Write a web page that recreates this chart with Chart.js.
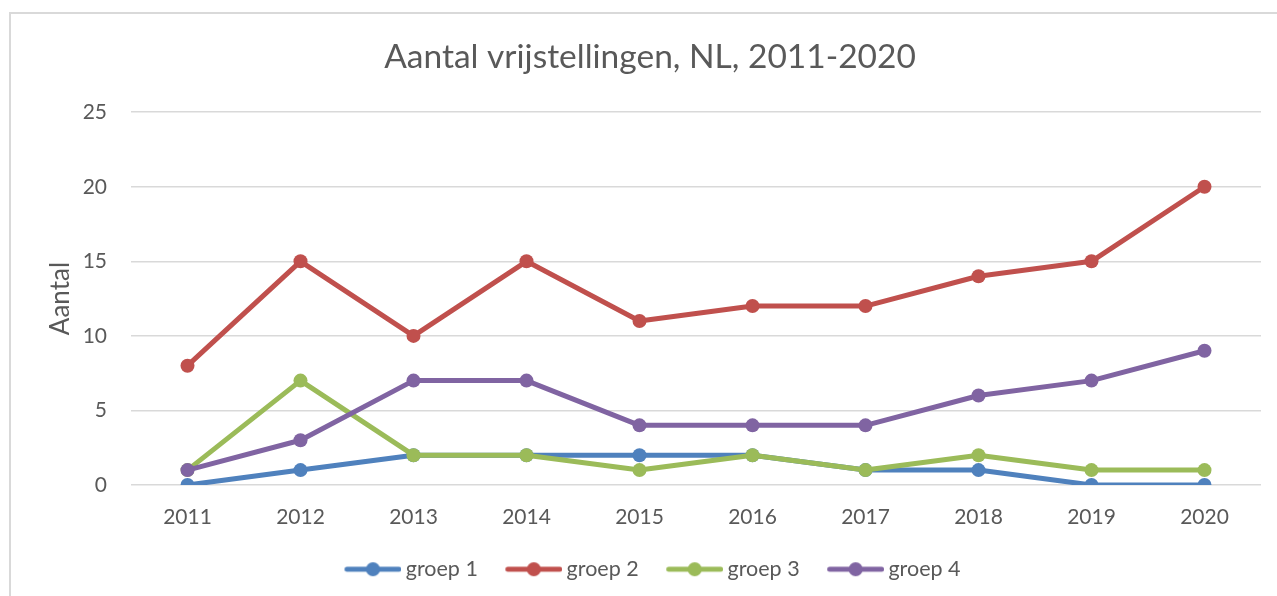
<!DOCTYPE html>
<html>
<head>
<meta charset="utf-8">
<script src="https://cdn.jsdelivr.net/npm/chart.js@4"></script>
<style>
    html, body { margin: 0; padding: 0; background: #fff; }
    #wrap { width: 1277px; height: 596px; }
</style>
</head>
<body>
<div id="wrap"><canvas id="dashboard1"></canvas></div>
<script>
const years = ['2011', '2012', '2013', '2014', '2015', '2016', '2017', '2018', '2019', '2020'];
const groep1 = [0, 1, 2, 2, 2, 2, 1, 1, 0, 0];
const groep2 = [8, 15, 10, 15, 11, 12, 12, 14, 15, 20];
const groep3 = [1, 7, 2, 2, 1, 2, 1, 2, 1, 1];
const groep4 = [1, 3, 7, 7, 4, 4, 4, 6, 7, 9];
const seriesNames = ['groep 1', 'groep 2', 'groep 3', 'groep 4'];
const seriesColors = ['#4F81BD', '#C0504D', '#9BBB59', '#8064A2'];

const textColor = '#595959';
const gridColor = '#d9d9d9';
const fontName = 'Lato';

// legend marker: line with a dot, drawn on a small canvas
const boxW = 72;
function legendMarker(color) {
    const c = document.createElement('canvas');
    c.width = boxW + 13.5;
    c.height = 20;
    const g = c.getContext('2d');
    g.strokeStyle = color;
    g.lineWidth = 5;
    g.lineCap = 'round';
    g.beginPath();
    g.moveTo(c.width - 57 + 2.5, 10);
    g.lineTo(c.width - 2.5, 10);
    g.stroke();
    g.fillStyle = color;
    g.beginPath();
    g.arc(c.width - 28.5, 10, 7, 0, Math.PI * 2);
    g.fill();
    return c;
}
const markers = seriesColors.map(legendMarker);

const frame = {
    id: 'frame',
    beforeDraw(chart) {
        const ctx = chart.ctx;
        ctx.save();
        ctx.strokeStyle = gridColor;
        ctx.lineWidth = 2;
        ctx.beginPath();
        ctx.moveTo(10, chart.height);
        ctx.lineTo(10, 13);
        ctx.lineTo(chart.width, 13);
        ctx.stroke();
        ctx.restore();
    },
    afterLayout(chart) {
        // Excel puts the legend a bit left of centre
        chart.legend.left -= 16.5;
    },
};

const allData = [groep1, groep2, groep3, groep4];

new Chart(document.getElementById('dashboard1'), {
    type: 'line',
    data: {
        labels: years,
        datasets: allData.map((d, i) => ({
            label: seriesNames[i],
            data: d,
            borderColor: seriesColors[i],
            backgroundColor: seriesColors[i],
            borderWidth: 5,
            pointRadius: 7,
            pointHoverRadius: 7,
            pointBorderWidth: 0,
            borderJoinStyle: 'round',
            borderCapStyle: 'round',
            tension: 0,
            order: 4 - i,
        })),
    },
    plugins: [frame],
    options: {
        responsive: true,
        maintainAspectRatio: false,
        animation: false,
        layout: {
            padding: { left: 39, right: 16, top: 0, bottom: 6 },
        },
        plugins: {
            title: {
                display: true,
                text: 'Aantal vrijstellingen, NL, 2011-2020',
                color: textColor,
                font: { family: fontName, size: 33.5, weight: 'normal' },
                padding: { top: 37, bottom: 35 },
            },
            legend: {
                position: 'bottom',
                labels: {
                    color: textColor,
                    font: { family: fontName, size: 21.5 },
                    usePointStyle: true,
                    pointStyleWidth: boxW,
                    padding: 6,
                    sort: (a, b) => a.datasetIndex - b.datasetIndex,
                    generateLabels: (chart) => Chart.defaults.plugins.legend.labels.generateLabels(chart).map(item => {
                        item.pointStyle = markers[item.datasetIndex];
                        return item;
                    }),
                },
            },
            tooltip: { enabled: false },
        },
        scales: {
            x: {
                offset: true,
                grid: { display: false, drawTicks: false },
                border: { display: false },
                ticks: {
                    color: textColor,
                    font: { family: fontName, size: 21 },
                    padding: 20,
                    maxRotation: 0,
                },
                afterFit: (scale) => { scale.height = 67.5; },
            },
            y: {
                min: 0,
                max: 25,
                ticks: {
                    stepSize: 5,
                    color: textColor,
                    font: { family: fontName, size: 21 },
                    padding: 24,
                },
                grid: { color: gridColor, lineWidth: 1.5, drawTicks: false },
                border: { display: false },
                title: {
                    display: true,
                    text: 'Aantal',
                    color: textColor,
                    font: { family: fontName, size: 26 },
                    padding: { top: 6, bottom: 0 },
                },
                afterFit: (scale) => { scale.width = 92; },
            },
        },
    },
});
</script>
</body>
</html>
